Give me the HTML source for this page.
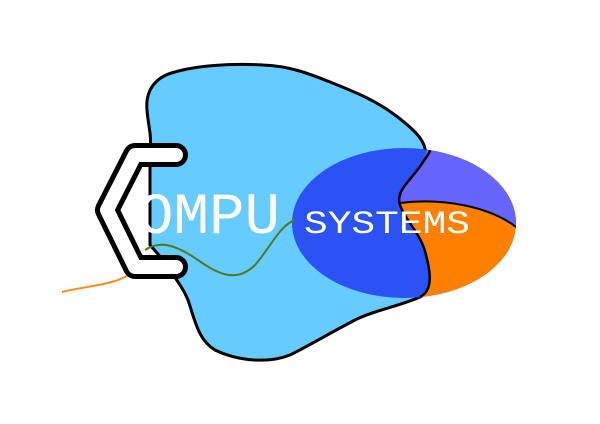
<!DOCTYPE html>
<html><head><style>body{margin:0;background:#fff}svg{display:block}</style></head><body>
<svg width="600" height="424" viewBox="0 0 600 424" xmlns="http://www.w3.org/2000/svg">
<rect width="600" height="424" fill="#fff"/>
<path d="M147,110 C145,88 158,76 175,72 C195,66 230,63 263,65 C290,66 310,74 330,82 C355,92 375,100 395,115 C415,130 432,145 423,162 C412,180 395,190 400,205 C405,220 422,235 426,255 C430,270 434,290 420,297 C400,306 375,310 355,320 C330,333 310,345 290,355 C270,363 240,362 215,350 C198,340 195,320 188,300 C182,285 172,275 165,262 L150,245 L150,150 C152,135 148,125 147,110 Z" fill="#66ccff" stroke="#000" stroke-width="3"/>
<defs><clipPath id="e"><ellipse cx="404" cy="223" rx="112" ry="75"/></clipPath></defs>
<ellipse cx="404" cy="223" rx="112" ry="75" fill="#2a52f5"/>
<g clip-path="url(#e)">
<path d="M423,162 C412,180 395,190 400,205 C405,220 422,235 426,255 C430,270 434,290 420,297 L530,310 L530,140 L430,140 Z" fill="#ff8000"/>
<path d="M423,162 C412,180 395,190 400,203 C440,198 490,205 520,230 L530,140 L430,140 Z" fill="#6666ff"/>
<path d="M400,203 C440,198 490,205 520,230" fill="none" stroke="#000" stroke-width="2"/>
<path d="M432,140 C432,150 428,155 423,162 C412,180 395,190 400,205 C405,220 422,235 426,255 C430,270 434,290 420,297" fill="none" stroke="#000" stroke-width="2.5"/>
</g>
<path d="M62,292 C90,285 120,285 135,270 L150,255" fill="none" stroke="#ff8c1a" stroke-width="2"/>
<path d="M145,250 C160,240 175,245 195,258 C215,272 235,285 255,265 C270,248 280,225 295,220" fill="none" stroke="#557722" stroke-width="2"/>
<path d="M176,155 L135,155 L107,210 L135,267 L176,267" fill="none" stroke="#000" stroke-width="24" stroke-linecap="round" stroke-linejoin="round"/>
<path d="M176,155 L135,155 L107,210 L135,267 L176,267" fill="none" stroke="#fff" stroke-width="14" stroke-linecap="round" stroke-linejoin="round"/>
<text x="138" y="233" font-family="Liberation Mono, monospace" font-size="58" fill="#fff" textLength="142" lengthAdjust="spacingAndGlyphs">OMPU</text>
<text x="304" y="233" font-family="Liberation Mono, monospace" font-size="32" fill="#fff" textLength="166" lengthAdjust="spacingAndGlyphs">SYSTEMS</text>
</svg>
</body></html>
